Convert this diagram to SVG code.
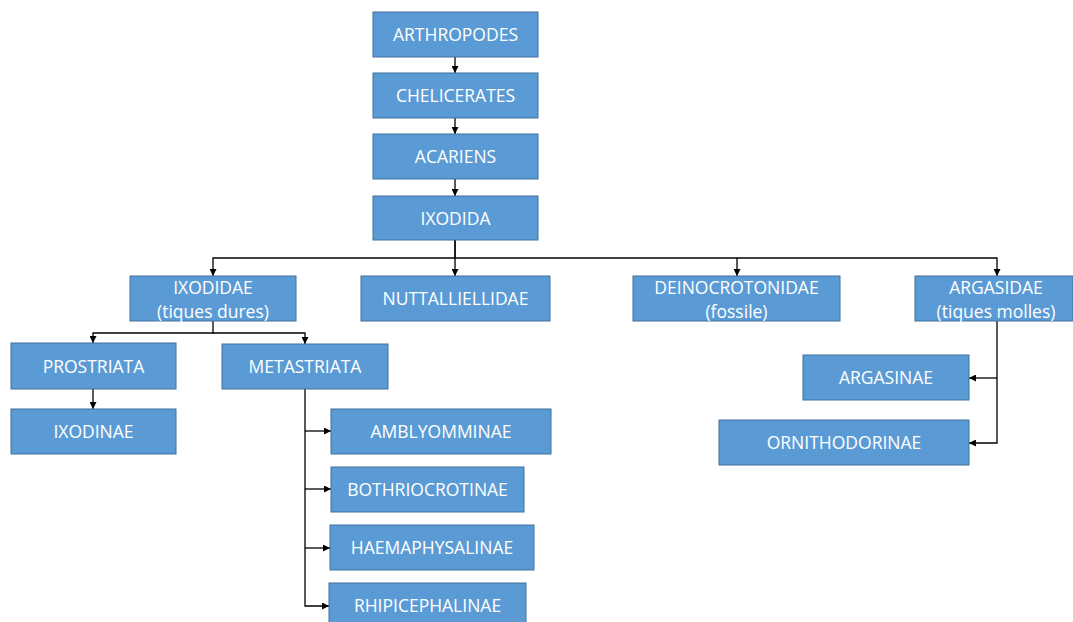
<svg xmlns="http://www.w3.org/2000/svg" width="1073" height="622" viewBox="0 0 1073 622">
<defs>
<style>
.n rect{fill:#5B9BD5;stroke:#41719C;stroke-width:1}
.n text{fill:#fff;font-family:"Open Sans","Liberation Sans",sans-serif;font-size:17.5px;text-anchor:middle}
.c path{fill:none;stroke:#000;stroke-width:1.3}
</style>
<marker id="a" viewBox="0 0 8 8" refX="8" refY="4" markerWidth="7" markerHeight="7" markerUnits="userSpaceOnUse" orient="auto"><path d="M0,0 L8,4 L0,8 z" fill="#000"/></marker>
</defs>
<rect width="1073" height="622" fill="#fff"/>
<g class="c">
<path d="M455,57 V73" marker-end="url(#a)"/>
<path d="M455,118 V134" marker-end="url(#a)"/>
<path d="M455,179 V196" marker-end="url(#a)"/>
<path d="M455,240 V258 H213 V276" marker-end="url(#a)"/>
<path d="M455,240 V276" marker-end="url(#a)"/>
<path d="M455,258 H737 V276" marker-end="url(#a)"/>
<path d="M737,258 H997 V276" marker-end="url(#a)"/>
<path d="M213,321 V333 H93 V343" marker-end="url(#a)"/>
<path d="M213,333 H305 V344" marker-end="url(#a)"/>
<path d="M93,389 V409" marker-end="url(#a)"/>
<path d="M305,389 V606 H329" marker-end="url(#a)"/>
<path d="M305,431 H331" marker-end="url(#a)"/>
<path d="M305,489 H331" marker-end="url(#a)"/>
<path d="M305,548 H330" marker-end="url(#a)"/>
<path d="M997,321 V443 H969" marker-end="url(#a)"/>
<path d="M997,378 H969" marker-end="url(#a)"/>
</g>
<g id="arthropodes" class="n"><rect x="373" y="12" width="165" height="45"/><text x="455.5" y="41">ARTHROPODES</text></g>
<g id="chelicerates" class="n"><rect x="373" y="73" width="165" height="45"/><text x="455.5" y="102">CHELICERATES</text></g>
<g id="acariens" class="n"><rect x="373" y="134" width="165" height="45"/><text x="455.5" y="163">ACARIENS</text></g>
<g id="ixodida" class="n"><rect x="373" y="196" width="165" height="44"/><text x="455.5" y="225">IXODIDA</text></g>
<g id="ixodidae" class="n"><rect x="130" y="276" width="166" height="45"/><text x="213" y="294">IXODIDAE</text><text x="213" y="318">(tiques dures)</text></g>
<g id="nuttalliellidae" class="n"><rect x="361" y="276" width="189" height="45"/><text x="455.5" y="305">NUTTALLIELLIDAE</text></g>
<g id="deinocrotonidae" class="n"><rect x="633" y="276" width="207" height="45"/><text x="736.5" y="294">DEINOCROTONIDAE</text><text x="736.5" y="318">(fossile)</text></g>
<g id="argasidae" class="n"><rect x="915" y="276" width="158" height="45"/><text x="996" y="294">ARGASIDAE</text><text x="996" y="318">(tiques molles)</text></g>
<g id="prostriata" class="n"><rect x="11" y="343" width="165" height="46"/><text x="93.5" y="373">PROSTRIATA</text></g>
<g id="metastriata" class="n"><rect x="222" y="344" width="166" height="45"/><text x="305" y="373">METASTRIATA</text></g>
<g id="ixodinae" class="n"><rect x="11" y="409" width="165" height="45"/><text x="93.5" y="438">IXODINAE</text></g>
<g id="amblyomminae" class="n"><rect x="331" y="409" width="220" height="45"/><text x="441" y="438">AMBLYOMMINAE</text></g>
<g id="bothriocrotinae" class="n"><rect x="331" y="467" width="193" height="45"/><text x="427.5" y="496">BOTHRIOCROTINAE</text></g>
<g id="haemaphysalinae" class="n"><rect x="330" y="525" width="204" height="45"/><text x="432" y="554">HAEMAPHYSALINAE</text></g>
<g id="rhipicephalinae" class="n"><rect x="329" y="583" width="197" height="45"/><text x="427.5" y="612">RHIPICEPHALINAE</text></g>
<g id="argasinae" class="n"><rect x="803" y="355" width="166" height="45"/><text x="886" y="384">ARGASINAE</text></g>
<g id="ornithodorinae" class="n"><rect x="719" y="420" width="250" height="45"/><text x="844" y="449">ORNITHODORINAE</text></g>
</svg>
